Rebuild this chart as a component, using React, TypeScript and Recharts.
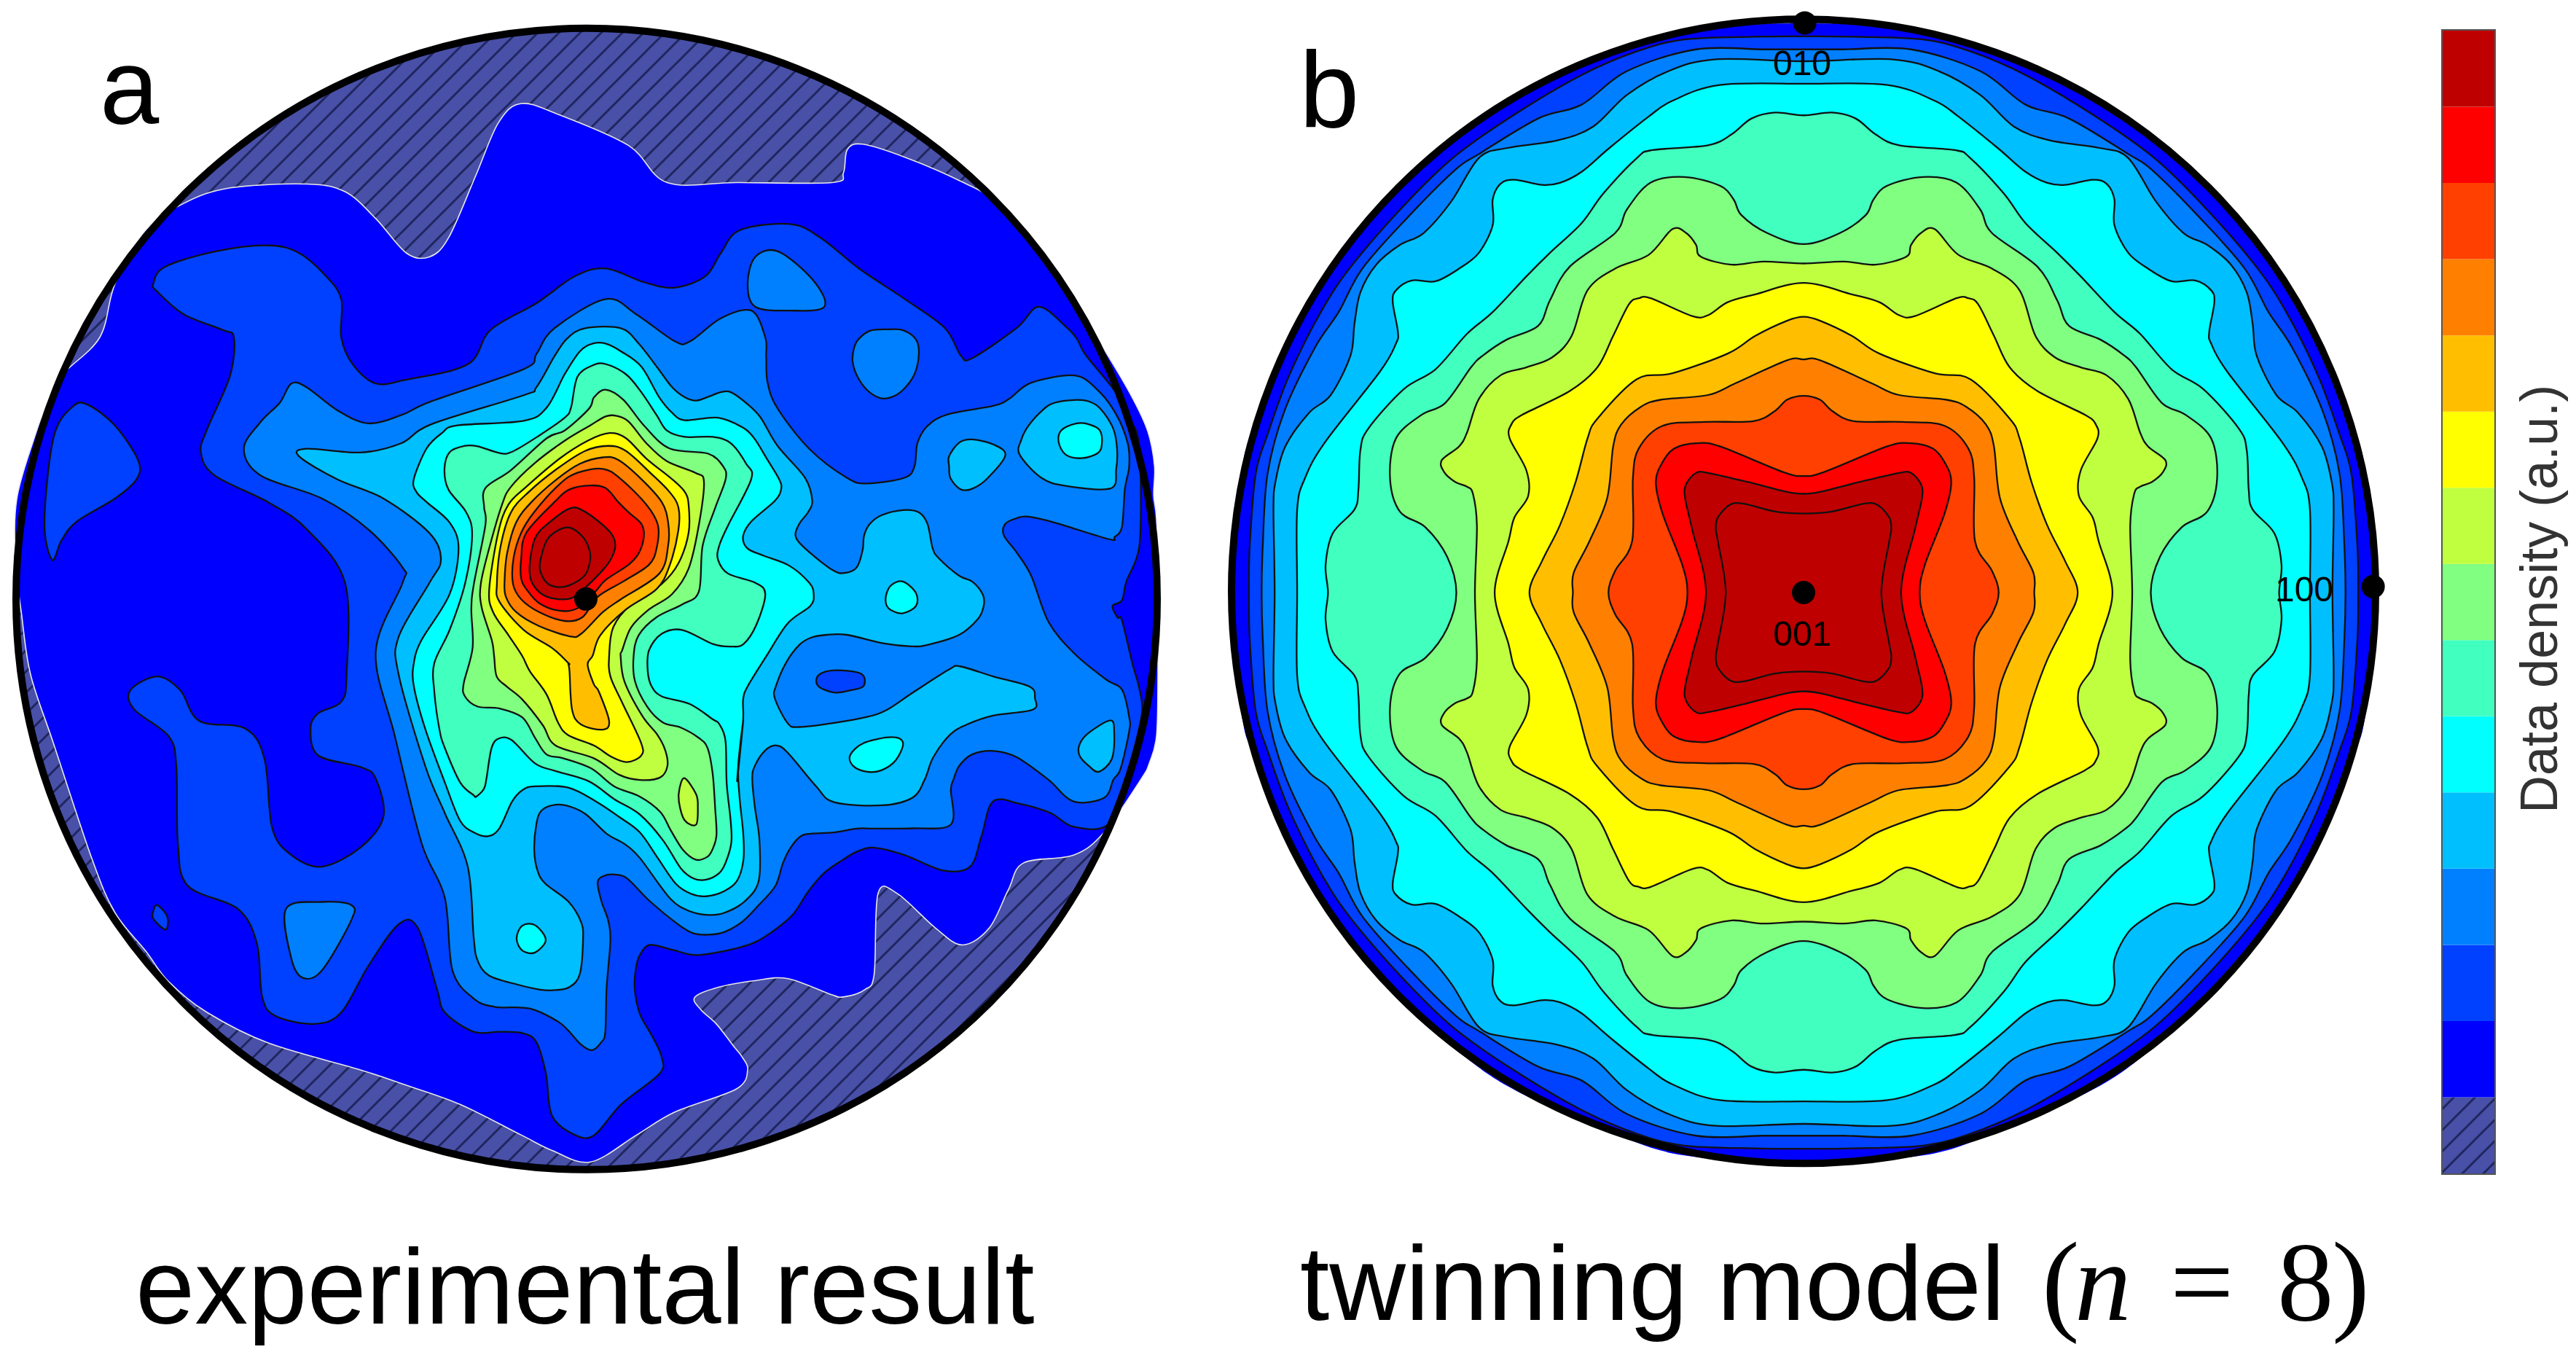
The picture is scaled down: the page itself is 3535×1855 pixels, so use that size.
import React from "react";
import { ScatterChart, Scatter, XAxis, YAxis, BarChart, Bar } from "recharts";

type Pt = [number, number];
type Datum = { x: number; y: number };

// ---- colour levels (top of colour bar first) ----
const LEVEL_COLORS = ["#bf0000", "#ff0000", "#ff4000", "#ff8000", "#ffbf00", "#ffff00", "#bfff40", "#80ff80", "#40ffbf", "#00ffff", "#00bfff", "#0080ff", "#0040ff", "#0000ff"];
const [DARKRED, RED, REDOR, ORANGE, AMBER, YELLOW, LIME, GREEN, TEAL, CYAN, SKY, AZURE, DEEP, BLUE] = LEVEL_COLORS;
const HATCH = "url(#hatch)";

// ---- read-off frames: panel a was traced on several crops ----
const crop = (ox: number, oy: number, k: number) => (pts: Pt[]): Datum[] => pts.map(([x, y]) => ({ x: ox + x * k, y: oy + y * k }));
const z1 = crop(0, 0, 1);
const z2 = crop(523, 428, 1 / 3);
const z5 = crop(617.7, 855.3, 1 / 3);
const z6 = crop(950.3, 427.6, 0.3757);

// ---- panel a: experimental result ----
const expBlue: Datum[] = [
  ...z1([[20,730],[22,650],[45,570],[60,530],[80,490],[130,440],[150,370],[190,300],[240,265],[300,245],[400,240],[450,250],[490,285],[530,330],[560,335],[585,310],[620,230],[650,160],[680,135],[730,150],[820,190],[870,238],[960,238],[1085,238],[1100,225],[1105,195],[1125,188],[1180,205],[1250,235],[1300,265],[1370,345]]),
  ...z6([[1250,0],[1300,70],[1400,240],[1455,360],[1478,480],[1475,580],[1485,665],[1490,900],[1490,1200],[1485,1415],[1460,1510],[1430,1568]]),
  ...z1([[1440,1085],[1400,1115],[1335,1125],[1315,1160],[1290,1210],[1255,1232],[1220,1210],[1170,1165],[1145,1165],[1140,1270]]),
  ...z5([[1530,1305],[1450,1333],[1400,1325],[1230,1262],[1100,1270],[960,1295],[865,1335],[890,1385],[950,1440],[1020,1530],[1050,1568]]),
  ...z1([[975,1395],[960,1420],[880,1450],[830,1480],[770,1515],[720,1500],[680,1480],[600,1440],[530,1415],[470,1395],[350,1360],[270,1320],[220,1280],[190,1240],[150,1190],[120,1120],[70,970],[40,880],[28,800]]),
];
const expDeepMain: Datum[] = [
  ...z1([[200,370],[215,348],[280,328],[350,320],[390,330],[425,360],[445,390],[445,440],[460,475],[490,500],[530,495],[610,475],[640,430],[700,395],[750,360],[790,350],[840,368],[880,375],[920,360],[940,330],[965,300],[1030,292],[1070,310],[1120,350],[1180,390]]),
  ...z6([[750,0],[805,95],[845,105],[1000,0]]),
  ...z1([[1355,400]]),
  ...z6([[1175,0],[1210,40],[1240,95],[1345,225],[1400,330],[1420,380],[1430,520],[1425,760],[1380,880],[1365,945],[1332,965],[1350,1005],[1365,1015],[1400,1160],[1425,1250],[1435,1330],[1410,1450],[1375,1568]]),
  ...z1([[1445,1075],[1400,1078],[1370,1060],[1330,1048],[1295,1045],[1280,1090],[1265,1130],[1230,1135],[1180,1115]]),
  ...z5([[1568,750],[1500,765],[1440,800],[1370,850],[1310,920],[1250,1010],[1180,1070],[1100,1120],[1000,1150],[870,1170],[780,1150],[690,1130],[650,1170],[635,1220],[630,1300],[650,1400],[700,1490],[735,1568]]),
  ...z1([[860,1400],[810,1440],[775,1480],[750,1480],[720,1455],[712,1400]]),
  ...z5([[245,1510],[190,1475],[100,1470],[0,1470]]),
  ...z1([[580,1320],[570,1290],[545,1210],[520,1205],[480,1260],[445,1320],[410,1335],[360,1325],[342,1300],[335,1230],[310,1185],[245,1155],[232,1100],[230,1000],[220,960],[175,925],[170,900],[205,882],[235,900],[260,940],[320,950],[345,990],[355,1080],[380,1115],[420,1130],[470,1105],[500,1065],[490,1015],[470,1000],[415,985],[405,950],[415,930],[445,915],[452,880],[450,760],[400,690],[350,655],[280,620],[262,590],[270,560],[300,490],[305,440],[290,430],[240,410],[205,380]]),
];
const expDeepLeft = z1([[68,730],[58,680],[70,570],[95,530],[115,528],[150,555],[180,600],[178,625],[150,650],[100,680],[80,705]]);
const expDeepSpeck = z1([[200,1188],[205,1180],[218,1195],[216,1212],[200,1198]]);
const expAzureMain: Datum[] = [
  ...z1([[318,585],[340,550],[365,525],[380,500],[400,505],[440,535],[480,552]]),
  ...z2([[0,340],[120,285],[480,160],[530,100],[600,0]]),
  ...z1([[790,390],[830,410],[880,445],[900,445],[940,415],[980,405],[998,440]]),
  ...z6([[130,100],[135,190],[170,280],[280,420],[410,520],[480,540],[610,520],[645,480],[655,400],[690,340],[760,300],[920,270],[975,245],[1050,190],[1200,165],[1280,215],[1345,300],[1385,400],[1390,480],[1375,560],[1365,690],[1340,725],[1320,733],[1130,675],[1040,655],[1000,660],[960,680],[955,720],[1000,780],[1050,860],[1110,1020],[1200,1130],[1310,1220],[1365,1255],[1390,1350],[1390,1400],[1360,1530],[1335,1568]]),
  ...z1([[1440,1040],[1400,1045]]),
  ...z6([[1110,1568],[1000,1490],[920,1468],[845,1480],[800,1520],[780,1568]]),
  ...z1([[1240,1030],[1240,1075],[1190,1080]]),
  ...z5([[1568,675],[1500,675],[1410,690],[1320,695],[1280,705],[1240,750],[1210,810],[1180,900],[1110,980],[1050,1040],[980,1080],[920,1090],[860,1085],[800,1050],[690,960],[600,870],[550,855],[510,860],[485,885],[500,960],[525,1030],[535,1110],[520,1300],[515,1470],[500,1510],[463,1542],[420,1520],[370,1465],[330,1430],[240,1385],[180,1375],[80,1372],[0,1340]]),
  ...z1([[590,1265],[580,1170],[550,1100],[515,960],[490,850],[525,760],[525,740],[480,690],[420,650],[340,620]]),
];
const expAzureTop = z1([[975,370],[985,335],[1015,328],[1060,365],[1075,400],[1030,405],[985,400]]);
const expAzureRight = z6([[490,10],[550,5],[605,8],[650,40],[660,90],[645,160],[605,215],[565,240],[525,243],[480,215],[445,165],[430,115],[435,70],[450,40]]);
const expAzureLow = z1([[373,1185],[420,1176],[458,1180],[458,1200],[420,1265],[395,1275],[380,1250]]);
const expSkyMain: Datum[] = [
  ...z1([[390,595],[400,585],[470,590]]),
  ...z2([[0,450],[120,375],[480,262],[530,230],[600,110],[650,40],[720,0],[860,0],[930,60],[1000,150],[1060,230],[1110,270],[1155,283],[1210,265],[1250,250],[1290,250]]),
  ...z6([[60,260],[110,310],[170,410],[265,520],[290,600],[275,640],[245,680],[232,722],[265,765],[360,840],[405,850],[445,830],[465,770],[470,720],[490,680],[530,650],[605,632],[660,640],[690,680],[708,765],[730,800],[800,860],[845,880],[882,925],[885,965],[865,1010],[800,1065],[690,1100],[635,1105],[540,1095],[410,1065],[340,1065],[285,1075],[245,1100],[200,1160],[165,1240],[160,1285],[205,1372],[245,1385],[370,1370],[480,1350],[550,1325],[640,1265],[765,1185],[805,1175],[920,1210],[1045,1245],[1063,1285],[1055,1325],[920,1345],[830,1375],[770,1410],[710,1490],[680,1568]]),
  ...z1([[1190,1040],[1150,1050]]),
  ...z5([[1410,572],[1340,510],[1230,380],[1185,350],[1140,370],[1100,430],[1090,480],[1100,590],[1118,720],[1115,880],[1060,960],[980,1005],[920,1013],[850,1000],[770,950],[650,790],[590,735],[520,695],[440,620],[380,590],[320,582],[265,605],[245,660],[237,760],[250,840],[280,890],[370,960],[420,1040],[428,1110],[415,1245],[375,1295],[320,1307],[260,1305],[170,1285],[60,1250],[15,1190],[0,1100]]),
  ...z1([[610,1130],[580,1060],[555,1000],[520,880],[520,830],[560,760],[575,730],[560,695],[500,650],[440,625]]),
];
const expSkyCorner = z6([[1010,440],[1015,390],[1040,340],[1090,285],[1130,260],[1200,250],[1250,255],[1290,280],[1335,350],[1348,420],[1345,490],[1325,557],[1170,548],[1085,520]]);
const expSkyDrop = z6([[765,445],[800,398],[845,387],[920,405],[960,443],[895,525],[845,558],[805,560],[770,522],[765,480]]);
const expSkyEdge = z6([[1218,1445],[1250,1405],[1325,1362],[1338,1405],[1330,1495],[1285,1540],[1250,1520],[1218,1485]]);
const expDeepHole = z6([[312,1205],[370,1188],[460,1200],[468,1243],[420,1258],[365,1265],[310,1242]]);
const expCyanMain: Datum[] = [
  ...z2([[50,590],[100,470],[160,410],[220,380],[480,362],[570,310],[640,180],[700,90],[750,60],[800,60],[860,90],[940,150],[1010,270],[1060,330],[1110,360],[1240,350],[1340,390]]),
  ...z6([[90,385],[130,450],[175,525],[182,560],[160,600],[80,670],[50,722],[65,765],[120,790],[210,825],[280,885],[295,925],[283,965],[205,1025],[130,1140],[65,1245],[50,1290],[50,1360],[35,1500],[30,1568]]),
  ...z5([[1055,250],[1035,430],[1040,550],[1055,700],[1055,800],[1030,880],[980,920],[910,940],[850,930],[790,890],[720,790],[650,690],[570,630],[480,570],[370,515],[240,510],[190,525],[150,570],[100,675],[55,705],[0,690]]),
  ...z1([[600,1070],[580,1020]]),
  ...z2([[95,1568],[50,1400],[50,1310],[80,1220],[190,1040],[225,860],[190,760],[100,680],[60,640]]),
];
const expCyanA = z6([[1145,395],[1155,355],[1205,332],[1245,333],[1288,355],[1295,405],[1280,435],[1225,452],[1170,440]]);
const expCyanB = z6([[547,925],[565,892],[605,880],[650,920],[650,965],[605,990],[565,980],[547,960]]);
const expCyanC = z6([[422,1482],[470,1440],[565,1420],[605,1440],[580,1500],[530,1535],[480,1540],[432,1520]]);
const expCyanD = z5([[168,1105],[190,1055],[240,1053],[282,1110],[240,1160],[190,1152]]);
const expTeal: Datum[] = [
  ...z2([[170,550],[190,485],[250,460],[300,462],[385,488],[435,483],[540,420],[640,350],[665,310],[690,190],[750,145],[800,140],[880,180],[940,250],[1000,340],[1040,400],[1110,425],[1220,425],[1290,450],[1350,530],[1370,590],[1280,770],[1245,850],[1240,905],[1280,960],[1385,995],[1425,1040],[1390,1160],[1340,1235],[1290,1245],[1220,1235],[1100,1180],[1020,1195],[970,1260],[965,1340],[980,1400],[1020,1440],[1130,1470],[1220,1530]]),
  ...z5([[960,265],[985,330],[990,500],[1005,640],[1008,730],[985,810],[960,850],[910,875],[860,870],[810,830],[740,720],[650,620],[550,560],[450,490],[320,450],[240,420],[150,330],[100,322],[70,360],[50,480],[40,520],[10,550],[0,545]]),
  ...z1([[600,1020],[580,975]]),
  ...z2([[150,1568],[130,1420],[130,1310],[190,1180],[250,1000],[278,810],[255,720],[185,630]]),
];
const expGreen: Datum[] = [
  ...z2([[330,625],[430,555],[570,430],[640,400],[735,315],[755,270],[800,240],[870,280],[950,380],[1050,470],[1200,490],[1260,540],[1270,590],[1230,700],[1180,850],[1165,1030],[1100,1080],[1000,1130],[930,1200],[910,1280],[915,1380]]),
  ...z5([[680,200],[740,260],[810,280],[880,320],[915,360],[935,460],[945,600],[950,700],[935,755],[915,785],[870,797],[820,760],[770,680],[730,610],[650,550],[550,510],[460,440],[350,400],[285,385],[240,320],[190,240],[100,205]]),
  ...z2([[300,1480],[250,1440],[245,1390],[280,1250],[275,1100],[285,1000],[330,770],[325,700]]),
];
const expLime: Datum[] = [
  ...z2([[345,860],[395,690],[430,620],[520,530],[640,440],[740,380],[800,345],[840,342],[890,365],[960,450],[1040,520],[1150,565],[1185,600],[1165,770],[1125,940],[1060,1040],[970,1100],[900,1170],[865,1260]]),
  ...z5([[575,0],[590,100],[660,235],[720,310],[750,370],[758,430],[730,475],[650,485],[570,465],[470,400],[320,350],[270,270],[190,170],[130,120],[90,80],[80,0]]),
  ...z2([[355,1220],[315,1090],[312,1000]]),
];
const expLimeIsland = z5([[825,478],[870,540],[877,590],[870,660],[825,642],[803,570],[805,520]]);
const expYellow: Datum[] = [
  ...z2([[345,1020],[380,800],[420,690],[490,620],[620,510],[730,440],[815,410],[880,430],[960,510],[1060,590],[1110,640],[1125,690],[1125,800],[1085,920],[1020,1000],[900,1080],[830,1170]]),
  ...z5([[530,0],[535,80],[580,180],[655,340],[655,390],[600,415],[540,395],[470,350],[370,310],[330,260],[285,150],[220,60],[190,0]]),
  ...z2([[420,1200],[360,1110]]),
];
const expAmber: Datum[] = [
  ...z2([[375,1000],[390,850],[430,720],[500,640],[610,550],[720,480],[810,460],[880,480],[980,570],[1050,640],[1085,700],[1085,790],[1050,930],[1000,1020],[880,1100],[780,1200],[750,1280],[730,1315]]),
  ...z5([[470,110],[490,140],[530,255],[505,288],[420,268],[385,210],[375,60],[370,30]]),
  ...z2([[655,1310],[590,1250],[480,1180],[385,1070]]),
];
const expOrange = z2([[405,990],[415,880],[450,760],[510,680],[610,590],[700,530],[790,505],[850,515],[940,590],[1020,680],[1045,760],[1045,850],[1010,960],[860,1060],[790,1110],[705,1195],[660,1205],[540,1165],[450,1110],[410,1050]]);
const expRedOrange = z2([[438,1000],[440,900],[470,800],[520,720],[620,610],[690,565],[790,550],[860,590],[960,690],[1005,770],[1000,860],[970,925],[870,990],[770,1050],[710,1130],[640,1145],[540,1110],[470,1060]]);
const expRed = z2([[470,980],[470,900],[490,800],[600,680],[660,630],[740,615],[800,625],[850,680],[890,720],[940,765],[950,815],[930,880],[890,925],[800,985],[760,1030],[690,1095],[620,1105],[540,1075],[490,1020]]);
const expDarkRed = z2([[503,930],[525,820],[580,760],[660,705],[710,712],[790,770],[830,815],[838,855],[820,905],[790,945],[720,1015],[660,1058],[570,1050],[515,1000]]);
const expCore = z2([[545,910],[570,830],[615,790],[660,780],[710,815],[735,860],[740,905],[720,965],[660,1005],[610,1012],[570,995],[545,950]]);

const EXP_LAYERS: [string, Datum[]][] = [
  [BLUE, expBlue], [DEEP, expDeepMain], [DEEP, expDeepLeft], [DEEP, expDeepSpeck],
  [AZURE, expAzureMain], [AZURE, expAzureTop], [AZURE, expAzureRight], [AZURE, expAzureLow],
  [SKY, expSkyMain], [SKY, expSkyCorner], [SKY, expSkyDrop], [SKY, expSkyEdge], [DEEP, expDeepHole],
  [CYAN, expCyanMain], [CYAN, expCyanA], [CYAN, expCyanB], [CYAN, expCyanC], [CYAN, expCyanD],
  [TEAL, expTeal], [GREEN, expGreen], [LIME, expLime], [LIME, expLimeIsland], [YELLOW, expYellow],
  [AMBER, expAmber], [ORANGE, expOrange], [REDOR, expRedOrange], [RED, expRed], [DARKRED, expDarkRed], [DARKRED, expCore],
];
const expCentre: Datum[] = [{ x: 765, y: 781 }];
const expPole: Datum[] = [{ x: 764, y: 781 }];

const CX = 1522, CY = 1500;
const modBlue: Pt[] = [[72,1500],[75,1400],[103,1170],[130,1090],[205,893],[335,664],[486,486],[686,308],[836,218],[1024,138],[1192,80],[1400,62],[1522,60]];
const modDeep: Pt[] = [[118,1500],[120,1380],[135,1200],[165,1100],[220,950],[300,790],[380,670],[520,510],[640,395],[790,290],[960,190],[1100,130],[1220,100],[1400,93],[1522,92]];
const modAzure: Pt[] = [[150,1500],[153,1380],[165,1200],[208,1040],[285,880],[345,790],[405,680],[520,550],[640,430],[700,390],[850,300],[960,265],[1075,180],[1250,125],[1420,125],[1522,125]];
const modSky: Pt[] = [[183,1500],[180,1290],[185,1220],[210,1130],[270,1045],[325,1000],[375,900],[385,820],[400,740],[440,670],[500,620],[560,590],[630,510],[700,400],[770,375],[900,355],[990,320],[1075,240],[1180,180],[1300,150],[1522,155]];
const modCyan: Pt[] = [[240,1500],[240,1290],[260,1210],[310,1120],[450,940],[490,870],[495,840],[482,765],[490,735],[530,710],[590,712],[650,680],[700,640],[735,570],[735,505],[755,465],[790,455],[860,468],[905,463],[960,435],[1030,375],[1130,295],[1190,255],[1310,215],[1522,212]];
const modTeal: Pt[] = [[318,1500],[312,1430],[330,1350],[385,1290],[395,1240],[400,1140],[420,1085],[510,985],[590,935],[670,845],[735,790],[820,700],[880,640],[960,565],[1015,490],[1100,400],[1140,380],[1280,368],[1340,340],[1390,300],[1450,285],[1522,292]];
const modGreen: Pt[] = [[643,1500],[620,1410],[565,1335],[500,1295],[475,1210],[490,1110],[555,1050],[615,1020],[680,930],[710,900],[770,860],[850,825],[880,760],[930,675],[1045,590],[1075,530],[1135,462],[1220,448],[1310,470],[1345,505],[1365,545],[1430,590],[1522,618]];
const modLime: Pt[] = [[690,1500],[695,1330],[685,1250],[670,1232],[640,1220],[612,1195],[606,1165],[650,1130],[670,1095],[700,1010],[755,950],[820,930],[885,905],[935,850],[975,735],[1045,680],[1130,645],[1190,580],[1225,590],[1250,620],[1262,650],[1340,670],[1420,662],[1522,667]];
const modYellow: Pt[] = [[740,1500],[775,1370],[790,1310],[825,1255],[820,1190],[778,1110],[782,1075],[810,1050],[930,990],[1000,930],[1040,850],[1080,770],[1105,755],[1135,755],[1240,800],[1280,798],[1330,765],[1400,745],[1522,716]];
const modAmber: Pt[] = [[828,1500],[860,1420],[905,1330],[945,1220],[975,1110],[1000,1060],[1100,960],[1190,945],[1330,895],[1400,850],[1480,812],[1522,802]];
const modOrange: Pt[] = [[938,1500],[940,1450],[980,1370],[1025,1260],[1040,1130],[1060,1075],[1110,1030],[1160,1012],[1280,1000],[1350,970],[1480,912],[1522,910]];
const modRedOrange: Pt[] = [[1028,1500],[1045,1445],[1088,1370],[1090,1210],[1105,1135],[1165,1078],[1270,1068],[1395,1066],[1450,1040],[1480,1012],[1522,1002]];
const modRed: Pt[] = [[1228,1500],[1215,1430],[1165,1300],[1148,1220],[1165,1170],[1195,1135],[1250,1122],[1310,1130],[1470,1195],[1522,1205]];
const modDarkRed: Pt[] = [[1275,1500],[1240,1340],[1222,1260],[1225,1225],[1250,1197],[1280,1197],[1380,1220],[1480,1245],[1522,1250]];
const modCore: Pt[] = [[1325,1500],[1305,1370],[1300,1340],[1305,1310],[1335,1278],[1370,1275],[1450,1295],[1522,1300]];

const unfold = (q: Pt[]): Datum[] => {
  const ne = q.slice(0, -1).reverse().map(([x, y]): Pt => [2 * CX - x, y]);
  const se = q.slice(0, -1).map(([x, y]): Pt => [2 * CX - x, 2 * CY - y]).slice(1);
  const sw = q.slice(1).reverse().map(([x, y]): Pt => [x, 2 * CY - y]);
  return [...q, ...ne, ...se, ...sw].map(([x, y]) => ({ x, y }));
};
const MOD_LAYERS: [string, Pt[]][] = [
  [BLUE, modBlue], [DEEP, modDeep], [AZURE, modAzure], [SKY, modSky], [CYAN, modCyan], [TEAL, modTeal], [GREEN, modGreen],
  [LIME, modLime], [YELLOW, modYellow], [AMBER, modAmber], [ORANGE, modOrange], [REDOR, modRedOrange], [RED, modRed], [DARKRED, modDarkRed], [DARKRED, modCore],
];
const modCentre: Datum[] = [{ x: CX, y: 1497 }];
const modPoles: Datum[] = [{ x: 1522, y: 1500 }, { x: 1525, y: 58 }, { x: 2964, y: 1485 }];

// ---- colour bar ----
const BAR_KEYS = ["hatched", "l14", "l13", "l12", "l11", "l10", "l9", "l8", "l7", "l6", "l5", "l4", "l3", "l2", "l1"];
const BAR_FILLS = [HATCH, ...[...LEVEL_COLORS].reverse()];
const BAR_ROW: Record<string, any>[] = [Object.fromEntries([["name", "density"], ...BAR_KEYS.map((k) => [k, 1])])];

// closed Catmull-Rom, passed to the Scatter line as its joint type
function smoothClosed(ctx: any) {
  let pts: [number, number][] = [];
  return {
    areaStart() {},
    areaEnd() {},
    lineStart() { pts = []; },
    point(x: number, y: number) { pts.push([+x, +y]); },
    lineEnd() {
      const n = pts.length;
      if (!n) return;
      ctx.moveTo(pts[0][0], pts[0][1]);
      for (let i = 0; i < n; i++) {
        const p0 = pts[(i - 1 + n) % n], p1 = pts[i], p2 = pts[(i + 1) % n], p3 = pts[(i + 2) % n];
        ctx.bezierCurveTo(p1[0] + (p2[0] - p0[0]) / 6, p1[1] + (p2[1] - p0[1]) / 6, p2[0] - (p3[0] - p1[0]) / 6, p2[1] - (p3[1] - p1[1]) / 6, p2[0], p2[1]);
      }
      ctx.closePath();
    },
  };
}

const hatchDefs = (
  <defs>
    <pattern id="hatch" patternUnits="userSpaceOnUse" width="29" height="29">
      <rect width="29" height="29" fill="#4850a8" />
      <path d="M-3 3L3 -3M0 29L29 0M26 32L32 26" stroke="#20265e" strokeWidth="3" />
    </pattern>
  </defs>
);

const noPoint = () => <g />;

function contour(key: string, color: string, data: Datum[], outline = "#111", width = 2.3) {
  return (
    <Scatter
      key={key}
      data={data}
      isAnimationActive={false}
      line={{ fill: color, stroke: outline, strokeWidth: width }}
      lineType="joint"
      lineJointType={smoothClosed as any}
      shape={noPoint}
      fill={color}
    />
  );
}

function disc(key: string, data: Datum[], r: number, fill: string, stroke: string, strokeWidth: number) {
  return (
    <Scatter
      key={key}
      data={data}
      isAnimationActive={false}
      shape={(p: any) => <circle cx={p.cx} cy={p.cy} r={r} fill={fill} stroke={stroke} strokeWidth={strokeWidth} />}
    />
  );
}

function poleDots(key: string, data: Datum[]) {
  return (
    <Scatter
      key={key}
      data={data}
      isAnimationActive={false}
      shape={(p: any) => <circle cx={p.cx} cy={p.cy} r={16} fill="#000" />}
    />
  );
}

const MARGIN = { top: 0, right: 0, bottom: 0, left: 0 };
const SERIF = "'Liberation Serif', serif";

export default function App() {
  return (
    <div style={{ position: "absolute", left: 0, top: 0, width: 3535, height: 1855, background: "#fff", overflow: "hidden" }}>
      <div style={{ position: "absolute", left: 0, top: 0 }}>
        <ScatterChart width={1650} height={1650} margin={MARGIN}>
          {hatchDefs}
          <XAxis type="number" dataKey="x" domain={[0, 1568]} hide />
          <YAxis type="number" dataKey="y" domain={[0, 1568]} reversed hide />
          {disc("base", expCentre, 783, HATCH, "none", 0)}
          {EXP_LAYERS.map(([c, d], i) => (i === 0 ? contour("e0", c, d, "#e8e8e8", 1.6) : contour("e" + i, c, d)))}
          {disc("ring", expCentre, 783, "none", "#000", 10)}
          {poleDots("pole", expPole)}
        </ScatterChart>
      </div>
      <div style={{ position: "absolute", left: 1650, top: 0 }}>
        <ScatterChart width={1650} height={1626} margin={MARGIN}>
          {hatchDefs}
          <XAxis type="number" dataKey="x" domain={[0, 3044]} hide />
          <YAxis type="number" dataKey="y" domain={[0, 3000]} reversed hide />
          {disc("base", modCentre, 785, HATCH, "none", 0)}
          {MOD_LAYERS.map(([c, q], i) => (i === 0 ? contour("m0", c, unfold(q), "none", 0) : contour("m" + i, c, unfold(q))))}
          {disc("ring", modCentre, 785, "none", "#000", 10)}
          {poleDots("poles", modPoles)}
        </ScatterChart>
      </div>
      <div style={{ position: "absolute", left: 3352, top: 42, outline: "2px solid #555", outlineOffset: 0 }}>
        <BarChart width={71} height={1568} data={BAR_ROW} margin={MARGIN} barCategoryGap={0}>
          {hatchDefs}
          <XAxis dataKey="name" hide />
          <YAxis type="number" domain={[0, 15]} hide />
          {BAR_KEYS.map((k, i) => (
            <Bar key={k} dataKey={k} stackId="c" fill={BAR_FILLS[i]} isAnimationActive={false} />
          ))}
        </BarChart>
      </div>
      <svg width={3535} height={1855} style={{ position: "absolute", left: 0, top: 0, pointerEvents: "none" }} fontFamily="'Liberation Sans', Arial, sans-serif" fill="#000">
        <text x={137} y={170} fontSize={146}>a</text>
        <text x={1783} y={175} fontSize={148}>b</text>
        <text x={186} y={1816} fontSize={146}>experimental result</text>
        <text y={1811} fontSize={145}>
          <tspan x={1784}>twinning model</tspan>{" "}
          <tspan x={2802} fontFamily={SERIF} fontSize={155}>(</tspan>
          <tspan x={2847} fontFamily={SERIF} fontSize={155} fontStyle="italic">n</tspan>{" "}
          <tspan x={2978} fontFamily={SERIF} fontSize={155}>=</tspan>{" "}
          <tspan x={3125} fontFamily={SERIF} fontSize={155}>8</tspan>
          <tspan x={3200} fontFamily={SERIF} fontSize={155}>)</tspan>
        </text>
        <text x={2473} y={103} fontSize={48} textAnchor="middle">010</text>
        <text x={2473} y={886} fontSize={48} textAnchor="middle">001</text>
        <text x={3162} y={825} fontSize={48} textAnchor="middle">100</text>
        <text transform="translate(3509,1116) rotate(-90)" fontSize={72} fill="#333">Data density (a.u.)</text>
      </svg>
    </div>
  );
}
